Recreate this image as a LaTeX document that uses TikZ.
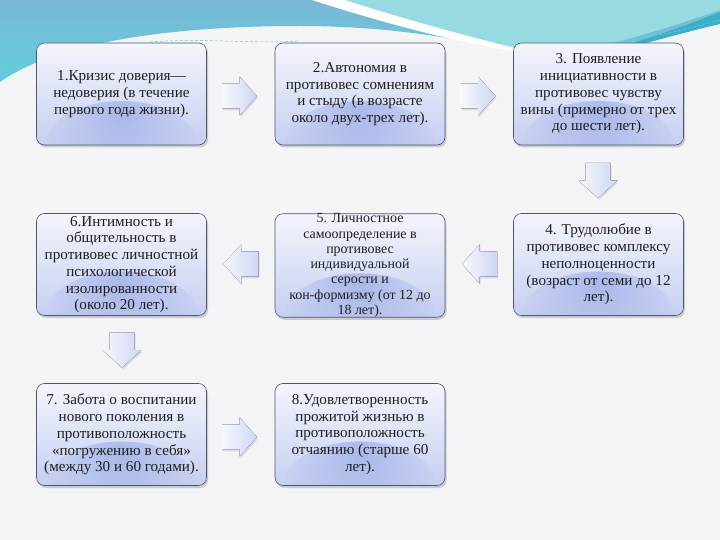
\documentclass[tikz,border=0pt]{standalone}
\usepackage{fontspec}
\setmainfont{Liberation Serif}
\usetikzlibrary{shadows,fadings}
\definecolor{pagebg}{HTML}{F3F4F6}
\definecolor{tealA}{HTML}{7AB8D4}
\definecolor{tealB}{HTML}{62CEDF}
\definecolor{tealLight}{HTML}{96DAE2}
\definecolor{tealDark}{HTML}{3AAFC7}
\definecolor{boxline}{HTML}{4E566E}
\definecolor{boxtop}{HTML}{F3F5FC}
\definecolor{boxbot}{HTML}{C6CFF1}
\definecolor{boxblob}{HTML}{A9B8EA}
\definecolor{arrowA}{HTML}{F7F8FD}
\definecolor{arrowB}{HTML}{CDD5F3}
\definecolor{txt}{HTML}{1E1E1E}
\tikzfading[name=blobfade, inner color=transparent!0, outer color=transparent!100]
\tikzset{
  stage/.style={rectangle, rounded corners=8bp, draw=boxline, line width=0.6bp,
    minimum width=170bp, minimum height=102bp, inner sep=0pt, align=center,
    text=txt, font=\fontsize{15.2}{16.8}\selectfont,
    top color=boxtop, bottom color=boxbot,
    drop shadow={shadow xshift=1.5bp, shadow yshift=-2.5bp, opacity=0.35},
    path picture={\fill[boxblob, path fading=blobfade]
      ([yshift=2bp]path picture bounding box.south) ellipse (75bp and 42bp);}},
  smalltext/.style={font=\fontsize{14}{15.3}\selectfont},
  blockfill/.style={left color=arrowA, right color=arrowB,
    drop shadow={shadow xshift=1.2bp, shadow yshift=-1.8bp, opacity=0.2}},
  dashdeco/.style={tealDark!70, line width=0.5bp, dash pattern=on 3bp off 2bp}
}
\newcommand\blockarr[2]{%
  \begin{scope}[shift={(#1)}, rotate=#2]
    \fill[blockfill] (-17.5,-12.5) -- (0,-12.5) -- (0,-19.5) -- (17.5,0)
      -- (0,19.5) -- (0,12.5) -- (-17.5,12.5) -- cycle;
  \end{scope}}
\begin{document}
\begin{tikzpicture}[x=1bp, y=-1bp]
\useasboundingbox (0,0) rectangle (720,540);
% background
\fill[pagebg] (0,0) rectangle (720,540);
\shade[top color=tealA, bottom color=tealB]
  (0,0) -- (720,0) -- (720,14) .. controls (680,30) and (610,52) .. (556,61)
  .. controls (480,42) and (400,26) .. (300,26)
  .. controls (180,26) and (60,40) .. (0,82) -- cycle;
\fill[tealLight] (345,0) -- (720,0) -- (720,10) .. controls (670,28) and (600,48) .. (552,57)
  .. controls (480,40) and (400,18) .. (345,0) -- cycle;
\fill[white] (312,0) -- (345,0) .. controls (400,18) and (480,40) .. (552,57)
  .. controls (470,47) and (380,22) .. (312,0) -- cycle;
\fill[tealDark] (720,12) .. controls (670,32) and (610,52) .. (556,62)
  .. controls (615,54) and (675,34) .. (720,24) -- cycle;
\draw[dashdeco] (0,68) .. controls (20,63) and (40,58) .. (60,55);
\draw[dashdeco] (150,42) .. controls (200,38) and (260,44) .. (300,41);
\draw[dashdeco] (720,20) .. controls (690,28) and (670,33) .. (645,38);

% stages
\node[stage] (s1) at (121.5,94) {1.Кризис доверия—\\недоверия (в течение\\первого года жизни).};
\node[stage] (s2) at (360,94) {2.Автономия в\\противовес сомнениям\\и стыду (в возрасте\\около двух-трех лет).};
\node[stage] (s3) at (598.5,94) {3. Появление\\инициативности в\\противовес чувству\\вины (примерно от трех\\до шести лет).};
\node[stage] (s4) at (598.5,264.5) {4. Трудолюбие в\\противовес комплексу\\неполноценности\\(возраст от семи до 12\\лет).};
\node[stage, smalltext] (s5) at (360,265.5) {5. Личностное\\самоопределение в\\противовес\\индивидуальной\\серости и\\кон-формизму (от 12 до\\18 лет).};
\node[stage] (s6) at (121.5,264.5) {6.Интимность и\\общительность в\\противовес личностной\\психологической\\изолированности\\(около 20 лет).};
\node[stage] (s7) at (121.5,434.5) {7. Забота о воспитании\\нового поколения в\\противоположность\\«погружению в себя»\\(между 30 и 60 годами).};
\node[stage] (s8) at (360,434.5) {8.Удовлетворенность\\прожитой жизнью в\\противоположность\\отчаянию (старше 60\\лет).};

% block arrows
\coordinate (a12) at (239.5,96);
\coordinate (a23) at (478,96);
\coordinate (a34) at (598,180.5);
\coordinate (a45) at (479.5,264);
\coordinate (a56) at (241,264);
\coordinate (a67) at (122,350);
\coordinate (a78) at (239.5,437);
\blockarr{a12}{0}
\blockarr{a23}{0}
\blockarr{a34}{-90}
\blockarr{a45}{180}
\blockarr{a56}{180}
\blockarr{a67}{-90}
\blockarr{a78}{0}
\end{tikzpicture}
\end{document}
